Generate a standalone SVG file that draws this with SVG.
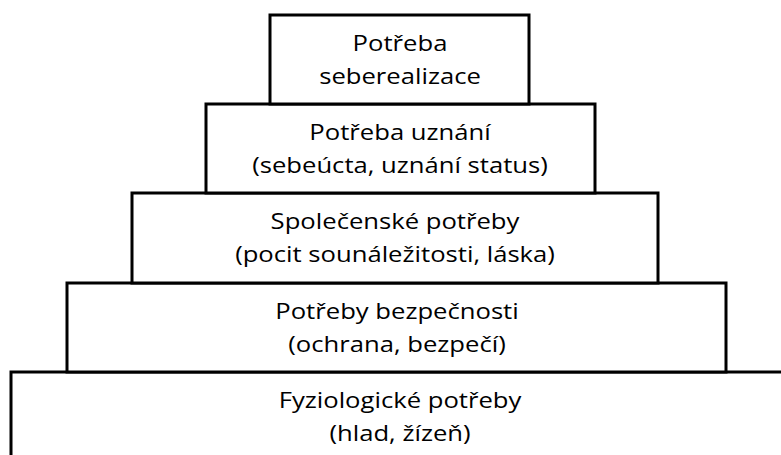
<svg xmlns="http://www.w3.org/2000/svg" width="781" height="455" viewBox="0 0 781 455">
  <style>
    .tier { fill: #ffffff; stroke: #000000; stroke-width: 3; }
    .lbl { font-family: "Open Sans", "Liberation Sans", sans-serif; font-size: 22.5px; fill: #000000; text-anchor: middle; }
  </style>
  <rect width="781" height="455" fill="#ffffff"/>

  <!-- Pyramid tiers, bottom to top -->
  <g id="tier-physiological">
    <rect class="tier" x="11" y="372" width="790" height="100"/>
    <text class="lbl" transform="translate(400 408) scale(1.14 1)">Fyziologické potřeby</text>
    <text class="lbl" transform="translate(400 441) scale(1.14 1)">(hlad, žízeň)</text>
  </g>

  <g id="tier-safety">
    <rect class="tier" x="67" y="283" width="659" height="89"/>
    <text class="lbl" transform="translate(397 319) scale(1.14 1)">Potřeby bezpečnosti</text>
    <text class="lbl" transform="translate(397 352) scale(1.14 1)">(ochrana, bezpečí)</text>
  </g>

  <g id="tier-social">
    <rect class="tier" x="132" y="193" width="526" height="90"/>
    <text class="lbl" transform="translate(395 229) scale(1.14 1)">Společenské potřeby</text>
    <text class="lbl" transform="translate(395 262) scale(1.14 1)">(pocit sounáležitosti, láska)</text>
  </g>

  <g id="tier-esteem">
    <rect class="tier" x="206" y="104" width="389" height="89"/>
    <text class="lbl" transform="translate(400 140) scale(1.14 1)">Potřeba uznání</text>
    <text class="lbl" transform="translate(400 173) scale(1.14 1)">(sebeúcta, uznání status)</text>
  </g>

  <g id="tier-self-actualization">
    <rect class="tier" x="270" y="15" width="259" height="89"/>
    <text class="lbl" transform="translate(400 51) scale(1.14 1)">Potřeba</text>
    <text class="lbl" transform="translate(400 84) scale(1.14 1)">seberealizace</text>
  </g>

  <!-- no connectors in this diagram -->
  <g id="connectors"/>
</svg>
